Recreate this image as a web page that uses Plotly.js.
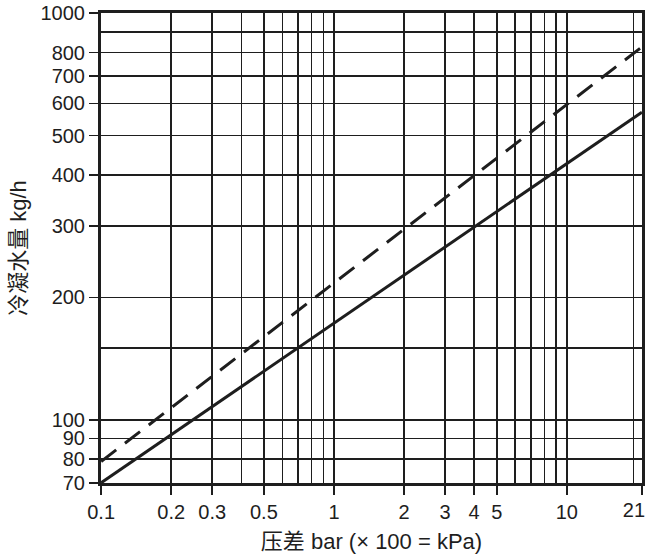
<!DOCTYPE html>
<html>
<head>
<meta charset="utf-8">
<script src="https://cdn.plot.ly/plotly-3.0.1.min.js"></script>
<style>
  html, body { margin: 0; padding: 0; background: #fff; }
  #chart { width: 648px; height: 560px; }
</style>
</head>
<body>
<div id="chart"></div>
<script>
// pressure difference (bar) at the two ends of each line
var pressure = [0.1, 21];
// condensate flow kg/h
var solidFlow = [70, 571];
var dashedFlow = [79, 826];

// labelled ticks
var xTicks = [0.1, 0.2, 0.3, 0.5, 1, 2, 3, 4, 5, 10, 21];
var xTickText = ["0.1", "0.2", "0.3", "0.5", "1", "2", "3", "4", "5", "10", ""];
// the last label sits at the right edge, drawn on an overlay axis nudged left
var xEndTick = [21];
var xEndText = ["21"];
var yTicks = [70, 80, 90, 100, 200, 300, 400, 500, 600, 700, 800, 1000];
var yTickText = ["70", "80", "90", "100", "200", "300", "400", "500", "600", "700", "800", "1000"];

// extra grid lines without labels
var xGridOnly = [0.4, 0.6, 0.7, 0.8, 0.9, 6, 7, 8, 9, 19.3];
var yGridOnly = [150, 900];

var ink = "#1e1e1e";
var font = "Liberation Sans, Arial, Noto Sans CJK SC, sans-serif";
var nb = "\u00a0";

var traces = [
  {
    x: pressure, y: solidFlow, mode: "lines",
    line: {color: ink, width: 3},
    hoverinfo: "skip"
  },
  {
    x: pressure, y: dashedFlow, mode: "lines",
    line: {color: ink, width: 3, dash: "19px,11px"},
    hoverinfo: "skip"
  }
];

function axis(vals, text, grid, range, title) {
  return {
    type: "log",
    range: range,
    tickmode: "array",
    tickvals: vals,
    ticktext: text,
    ticks: "outside",
    ticklen: 9,
    tickwidth: 1.5,
    tickcolor: ink,
    showgrid: true,
    gridcolor: ink,
    gridwidth: 1.5,
    minor: {
      tickmode: "array",
      tickvals: grid,
      ticks: "",
      showgrid: true,
      gridcolor: ink,
      gridwidth: 1.5
    },
    showline: true,
    mirror: true,
    linecolor: ink,
    linewidth: 3,
    zeroline: false,
    tickfont: {family: font, size: 20, color: ink},
    title: {text: title, font: {family: font, size: 22, color: ink}},
    fixedrange: true
  };
}

var xRange = [Math.log10(0.1) - 0.0005, Math.log10(21) + 0.0005];
var xa = axis(xTicks, xTickText, xGridOnly, xRange,
  nb + nb + nb + nb + nb + "压差 bar (× 100 = kPa)");
xa.title.standoff = 12;
var ya = axis(yTicks, yTickText, yGridOnly, [Math.log10(70) - 0.0005, Math.log10(1000) + 0.0005], "冷凝水量 kg/h");
ya.title.standoff = 8;

var xa2 = {
  type: "log",
  overlaying: "x",
  anchor: "y",
  side: "bottom",
  range: xRange,
  tickmode: "array",
  tickvals: xEndTick,
  ticktext: xEndText,
  ticks: "outside",
  ticklen: 9,
  tickcolor: "rgba(0,0,0,0)",
  ticklabelshift: -8,
  ticklabeloverflow: "allow",
  showgrid: false,
  showline: false,
  zeroline: false,
  tickfont: {family: font, size: 20, color: ink},
  fixedrange: true
};

// an empty trace so the overlay axis gets drawn
traces.push({x: [], y: [], xaxis: "x2", mode: "lines", hoverinfo: "skip", showlegend: false});

var layout = {
  width: 648,
  height: 560,
  margin: {l: 101, r: 6, t: 13, b: 77},
  paper_bgcolor: "#fff",
  plot_bgcolor: "#fff",
  showlegend: false,
  xaxis: xa,
  xaxis2: xa2,
  yaxis: ya
};

Plotly.newPlot("chart", traces, layout, {staticPlot: true, displayModeBar: false});
</script>
</body>
</html>
